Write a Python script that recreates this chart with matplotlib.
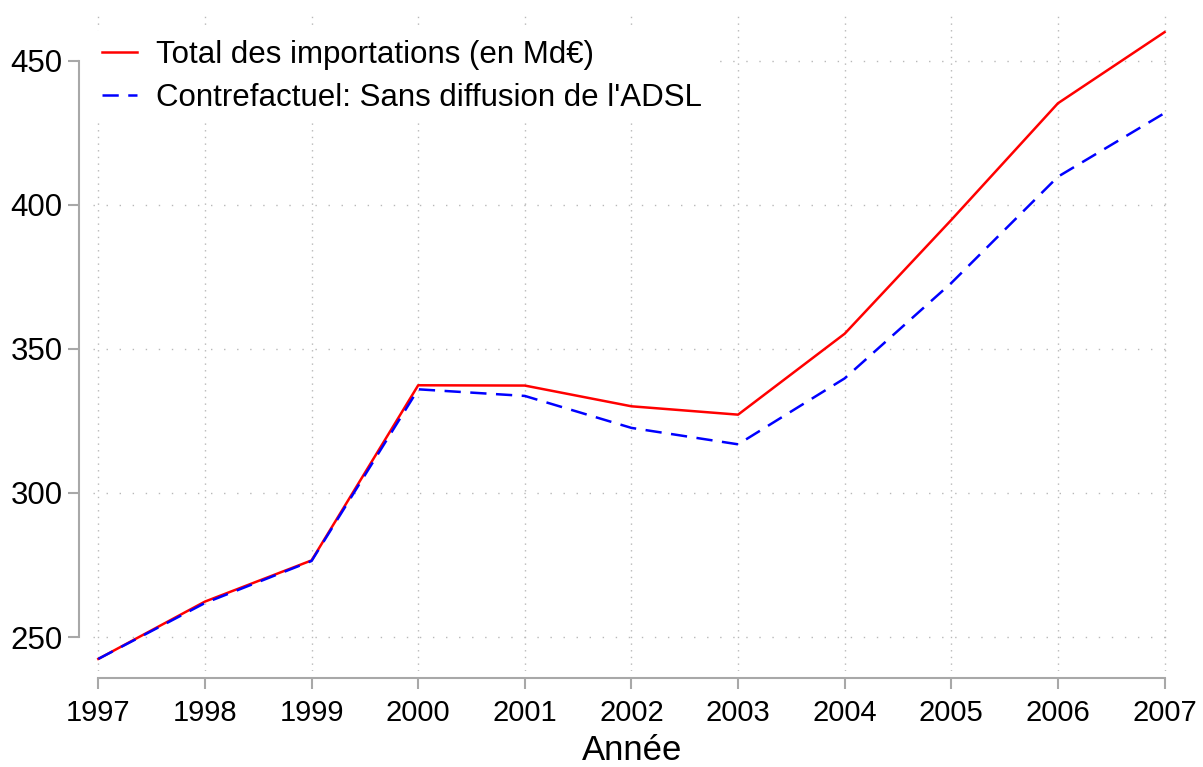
"""Imports totaux vs contrefactuel sans diffusion de l'ADSL."""

import matplotlib.pyplot as plt

years = [1997, 1998, 1999, 2000, 2001, 2002, 2003, 2004, 2005, 2006, 2007]
total_imports = [242.4, 262.3, 276.6, 337.4, 337.3, 330.1, 327.2, 355.3, 394.8, 435.3, 460.0]
counterfactual = [242.4, 261.8, 276.4, 336.0, 333.7, 322.6, 316.9, 339.8, 372.9, 409.8, 431.9]
y_ticks = [250, 300, 350, 400, 450]

plt.rcParams["font.family"] = ["Liberation Sans", "DejaVu Sans"]

GREY = "#a8a8a8"

fig = plt.figure(figsize=(12.03, 7.67), dpi=100)
ax = fig.add_axes([93 / 1203, 1 - 671 / 767, (1172 - 93) / 1203, (671 - 14) / 767])

ax.plot(years, total_imports, color="red", linewidth=1.8, label="Total des importations (en Md€)")
ax.plot(years, counterfactual, color="blue", linewidth=1.8, linestyle=(0, (6.5, 3.8)),
        label="Contrefactuel: Sans diffusion de l'ADSL")

ax.set_xlim(1996.95, 2007.07)
ax.set_ylim(238.2, 466.3)
ax.set_xticks(years)
ax.set_yticks(y_ticks)

# horizontal and vertical grid lines use different dot spacing
ax.yaxis.grid(True, color="#b8b8b8", linestyle=(0, (1, 8.4)), linewidth=1.0)
ax.xaxis.grid(True, color="#b8b8b8", linestyle=(0, (1, 3.8)), linewidth=1.0)
ax.set_axisbelow(True)

for side in ("top", "right"):
    ax.spines[side].set_visible(False)
ax.spines["left"].set_position(("outward", 10))
ax.spines["bottom"].set_position(("outward", 5))
ax.spines["left"].set_bounds(250, 450)
ax.spines["bottom"].set_bounds(1997, 2007)
for side in ("left", "bottom"):
    ax.spines[side].set_color(GREY)
    ax.spines[side].set_linewidth(1.5)

ax.tick_params(axis="both", colors=GREY, width=1.5, length=8, labelcolor="black")
ax.tick_params(axis="y", pad=4, labelsize=22.5)
ax.tick_params(axis="x", pad=7, labelsize=21)

ax.set_xlabel("Année", fontsize=25, labelpad=5)

leg = ax.legend(loc="upper left", bbox_to_anchor=(0.0, 0.975), fontsize=22.5, frameon=True,
                handlelength=1.1, handletextpad=0.6, labelspacing=0.42, borderaxespad=0.0,
                borderpad=0.3)
leg.get_frame().set_facecolor("white")
leg.get_frame().set_edgecolor("none")
leg.get_frame().set_alpha(1.0)

fig.savefig("out.png", dpi=100)
